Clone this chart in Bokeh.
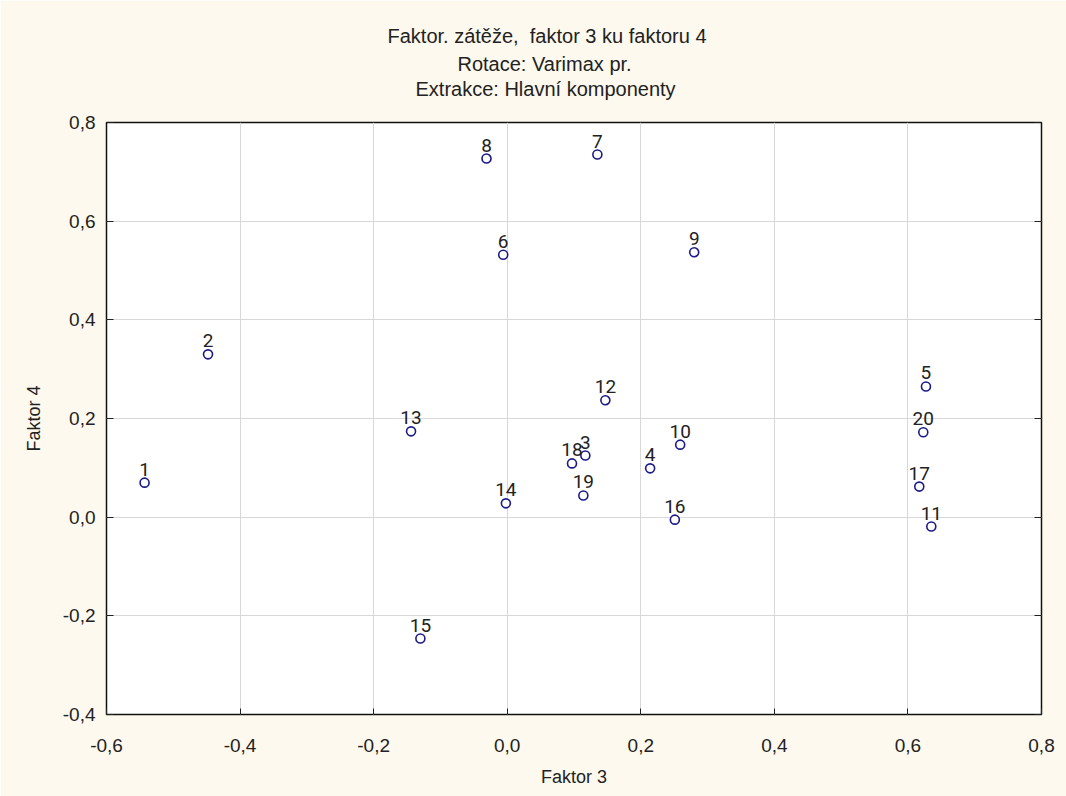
from bokeh.plotting import figure
from bokeh.models import (FixedTicker, Title, ColumnDataSource, Range1d,
                          LabelSet, LinearAxis)
from bokeh.core.properties import value
from bokeh.embed import file_html
from bokeh.resources import INLINE

# data
ids = ["1", "2", "3", "4", "5", "6", "7", "8", "9", "10",
       "11", "12", "13", "14", "15", "16", "17", "18", "19", "20"]
faktor3 = [-0.543, -0.448, 0.117, 0.214, 0.627, -0.006, 0.135, -0.031, 0.280, 0.259,
           0.635, 0.147, -0.144, -0.002, -0.130, 0.251, 0.617, 0.097, 0.114, 0.623]
faktor4 = [0.070, 0.330, 0.125, 0.099, 0.265, 0.532, 0.735, 0.727, 0.537, 0.147,
           -0.019, 0.237, 0.174, 0.028, -0.246, -0.005, 0.062, 0.109, 0.044, 0.172]

x_ticks = [-0.6, -0.4, -0.2, 0.0, 0.2, 0.4, 0.6, 0.8]
x_tick_labels = ["-0,6", "-0,4", "-0,2", "0,0", "0,2", "0,4", "0,6", "0,8"]
y_ticks = [-0.4, -0.2, 0.0, 0.2, 0.4, 0.6, 0.8]
y_tick_labels = ["-0,4", "-0,2", "0,0", "0,2", "0,4", "0,6", "0,8"]

title_lines = ["Faktor. zátěže,\u00a0 faktor 3 ku faktoru 4",
               "Rotace: Varimax pr.",
               "Extrakce: Hlavní komponenty\n"]

FONT = "Liberation Sans"
LABEL_FONT = "Roboto"
CREAM = "#fdf9ee"

p = figure(width=1066, height=796, output_backend="svg", toolbar_location=None,
           x_range=Range1d(-0.6, 0.8), y_range=Range1d(-0.4, 0.8),
           min_border_left=106, min_border_right=25, min_border_top=122,
           min_border_bottom=82)
p.border_fill_color = CREAM
p.background_fill_color = "white"
p.outline_line_color = "#111111"
p.outline_line_width = 1.5

for ax in (p.xaxis[0], p.yaxis[0]):
    ax.axis_line_color = None
    ax.minor_tick_line_color = None
    ax.major_tick_line_color = "#222222"
    ax.major_label_text_font = FONT
    ax.major_label_text_font_size = "19px"
    ax.major_label_text_color = "#222222"
    ax.axis_label_text_font = FONT
    ax.axis_label_text_font_size = "18px"
    ax.axis_label_text_font_style = "normal"
    ax.axis_label_text_color = "#222222"

p.xaxis.ticker = FixedTicker(ticks=x_ticks)
p.xaxis.major_label_overrides = dict(zip(x_ticks, x_tick_labels))
p.yaxis.ticker = FixedTicker(ticks=y_ticks)
p.yaxis.major_label_overrides = dict(zip(y_ticks, y_tick_labels))
p.xaxis.major_tick_in = 6
p.xaxis.major_tick_out = 0
p.xaxis.major_label_standoff = 24
p.yaxis.major_tick_in = 7
p.yaxis.major_tick_out = 0
p.yaxis.major_label_standoff = 11
p.xaxis.axis_label = "Faktor 3"
p.yaxis.axis_label = "Faktor 4"
p.xaxis.axis_label_standoff = 12
p.yaxis.axis_label_standoff = 16

# inward ticks on the right frame edge (no labels)
right_ax = LinearAxis(ticker=FixedTicker(ticks=y_ticks), axis_line_color=None,
                      minor_tick_line_color=None, major_tick_line_color="#222222",
                      major_tick_in=7, major_tick_out=0, major_label_standoff=0,
                      major_label_overrides={t: "" for t in y_ticks})
p.add_layout(right_ax, "right")

p.xgrid.grid_line_color = "#d8d8d8"
p.ygrid.grid_line_color = "#d8d8d8"

src = ColumnDataSource(dict(x=faktor3, y=faktor4, t=ids))
p.scatter("x", "y", source=src, size=9, fill_color="white",
          line_color="#1a1a8a", line_width=1.6)
p.add_layout(LabelSet(x="x", y="y", text="t", source=src, text_align="center",
                      text_baseline="alphabetic", y_offset=7,
                      text_font=value(LABEL_FONT), text_font_size="19px",
                      text_color="#222222"))

# (left offset so each line is centred at the same place as in the original)
title_offsets = [281, 351, 309]
standoffs = [8, 0, 2]
for line, off, so in reversed(list(zip(title_lines, title_offsets, standoffs))):
    p.add_layout(Title(text=line, align="left", offset=off, standoff=so,
                       text_font=FONT, text_font_size="20px",
                       text_font_style="normal", text_color="#222222"), "above")

html = file_html(p, INLINE)
html = html.replace("<body>", '<body style="background:%s">' % CREAM, 1)
open("out.html", "w").write(html)
